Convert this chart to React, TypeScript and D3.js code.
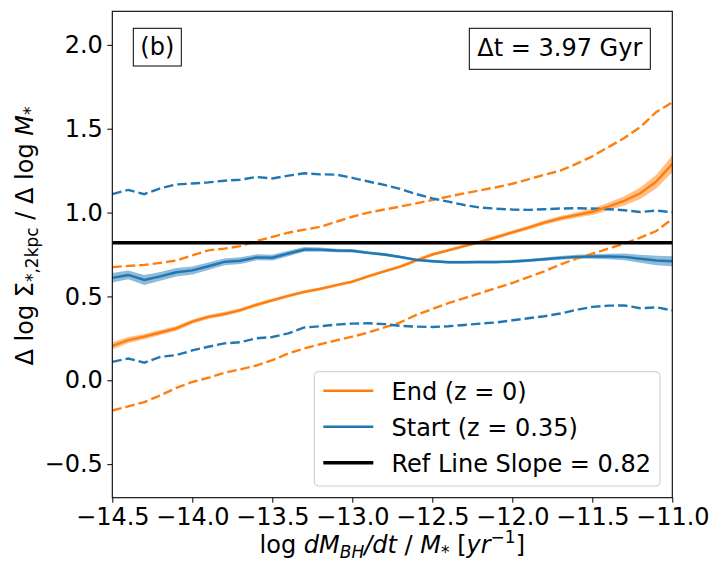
import * as d3 from "d3";
import { useEffect, useRef } from "react";

// bin centres, log dM_BH/dt / M_*
const xs = [
  -14.5, -14.4, -14.3, -14.2, -14.1, -14.0, -13.9, -13.8, -13.7, -13.6, -13.5, -13.4,
  -13.3, -13.2, -13.1, -13.0, -12.9, -12.8, -12.7, -12.6, -12.5, -12.4, -12.3, -12.2,
  -12.1, -12.0, -11.9, -11.8, -11.7, -11.6, -11.5, -11.4, -11.3, -11.2, -11.1, -11.0,
];

// End (z = 0)
const endMed = [
  0.205, 0.24, 0.26, 0.285, 0.31, 0.35, 0.378, 0.395, 0.418, 0.45, 0.477, 0.503,
  0.527, 0.545, 0.567, 0.588, 0.62, 0.65, 0.678, 0.715, 0.75, 0.775, 0.8, 0.825,
  0.853, 0.882, 0.91, 0.94, 0.965, 0.985, 1.005, 1.035, 1.07, 1.115, 1.185, 1.29,
];
const endErr = [
  0.022, 0.018, 0.016, 0.015, 0.014, 0.013, 0.012, 0.012, 0.011, 0.011, 0.01, 0.01,
  0.01, 0.009, 0.009, 0.009, 0.009, 0.009, 0.009, 0.009, 0.009, 0.009, 0.009, 0.01,
  0.01, 0.011, 0.012, 0.013, 0.014, 0.016, 0.019, 0.023, 0.028, 0.034, 0.041, 0.05,
];
const endHi = [
  0.675, 0.682, 0.688, 0.7, 0.714, 0.745, 0.775, 0.785, 0.8, 0.83, 0.855, 0.88,
  0.898, 0.915, 0.945, 0.975, 1.0, 1.018, 1.036, 1.055, 1.075, 1.095, 1.115, 1.133,
  1.151, 1.172, 1.198, 1.225, 1.25, 1.29, 1.335, 1.39, 1.445, 1.51, 1.6, 1.657,
];
const endLo = [
  -0.18, -0.155, -0.13, -0.09, -0.045, -0.01, 0.015, 0.045, 0.065, 0.088, 0.12, 0.16,
  0.19, 0.215, 0.238, 0.26, 0.285, 0.315, 0.345, 0.39, 0.425, 0.46, 0.49, 0.52,
  0.55, 0.58, 0.615, 0.65, 0.69, 0.725, 0.755, 0.785, 0.815, 0.85, 0.89, 0.962,
];

// Start (z = 0.35)
const startMed = [
  0.611, 0.628, 0.598, 0.62, 0.644, 0.655, 0.68, 0.706, 0.713, 0.733, 0.731, 0.756,
  0.78, 0.779, 0.774, 0.772, 0.76, 0.75, 0.735, 0.718, 0.71, 0.704, 0.704, 0.705,
  0.705, 0.708, 0.714, 0.722, 0.73, 0.736, 0.738, 0.738, 0.736, 0.725, 0.714, 0.71,
];
const startErr = [
  0.028, 0.026, 0.03, 0.026, 0.025, 0.024, 0.022, 0.02, 0.02, 0.018, 0.017, 0.016,
  0.014, 0.012, 0.011, 0.01, 0.009, 0.009, 0.008, 0.008, 0.008, 0.008, 0.008, 0.008,
  0.008, 0.009, 0.009, 0.01, 0.011, 0.012, 0.014, 0.017, 0.02, 0.024, 0.028, 0.03,
];
const startHi = [
  1.11, 1.135, 1.11, 1.145, 1.168, 1.173, 1.18, 1.19, 1.196, 1.212, 1.203, 1.22,
  1.234, 1.228, 1.226, 1.207, 1.185, 1.165, 1.141, 1.11, 1.085, 1.065, 1.045, 1.03,
  1.023, 1.018, 1.016, 1.02, 1.024, 1.026, 1.024, 1.02, 1.014, 1.003, 1.012, 1.002,
];
const startLo = [
  0.11, 0.13, 0.105, 0.14, 0.15, 0.178, 0.2, 0.22, 0.227, 0.25, 0.258, 0.28,
  0.315, 0.322, 0.332, 0.338, 0.34, 0.335, 0.325, 0.32, 0.318, 0.322, 0.33, 0.338,
  0.345, 0.358, 0.37, 0.382, 0.398, 0.42, 0.438, 0.445, 0.446, 0.43, 0.435, 0.417,
];

const refSlope = 0.82;
const xTicks = [-14.5, -14.0, -13.5, -13.0, -12.5, -12.0, -11.5, -11.0];
const yTicks = [-0.5, 0.0, 0.5, 1.0, 1.5, 2.0];

const ORANGE = "#ff7f0e";
const BLUE = "#1f77b4";
const FONT = "DejaVu Sans, sans-serif";
const FS = 24;
const SUB = 17;

export default function App() {
  const ref = useRef<SVGSVGElement | null>(null);

  useEffect(() => {
    document.body.style.margin = "0";
    const svg = d3.select(ref.current);
    svg.selectAll("*").remove();

    const margin = { top: 11.3, right: 47.7, bottom: 78.3, left: 112.3 };
    const width = 720 - margin.left - margin.right;
    const height = 576 - margin.top - margin.bottom;

    const g = svg.append("g").attr("transform", `translate(${margin.left},${margin.top})`);

    const x = d3.scaleLinear().domain([-14.5, -11.0]).range([0, width]);
    const y = d3.scaleLinear().domain([-0.7, 2.2]).range([height, 0]);

    g.append("clipPath").attr("id", "plot").append("rect").attr("width", width).attr("height", height);
    const plot = g.append("g").attr("clip-path", "url(#plot)");

    const idx = d3.range(xs.length);
    const area = (med: number[], err: number[]) =>
      d3.area<number>().x((i) => x(xs[i])).y0((i) => y(med[i] - err[i])).y1((i) => y(med[i] + err[i]));
    const line = (vals: number[]) => d3.line<number>().x((i) => x(xs[i])).y((i) => y(vals[i]));

    // shaded error bands
    plot.append("path").datum(idx).attr("fill", ORANGE).attr("opacity", 0.5).attr("d", area(endMed, endErr));
    plot.append("path").datum(idx).attr("fill", BLUE).attr("opacity", 0.5).attr("d", area(startMed, startErr));

    // percentile lines
    [
      [endHi, ORANGE],
      [endLo, ORANGE],
      [startHi, BLUE],
      [startLo, BLUE],
    ].forEach(([vals, col]) => {
      plot.append("path").datum(idx)
        .attr("fill", "none")
        .attr("stroke", col as string)
        .attr("stroke-width", 2.4)
        .attr("stroke-dasharray", "9.5,4")
        .attr("d", line(vals as number[]));
    });

    // medians
    plot.append("path").datum(idx).attr("fill", "none").attr("stroke", ORANGE).attr("stroke-width", 2.4).attr("d", line(endMed));
    plot.append("path").datum(idx).attr("fill", "none").attr("stroke", BLUE).attr("stroke-width", 2.4).attr("d", line(startMed));

    // reference slope
    plot.append("line")
      .attr("x1", 0).attr("x2", width)
      .attr("y1", y(refSlope)).attr("y2", y(refSlope))
      .attr("stroke", "black").attr("stroke-width", 3.5);

    // axes
    const fmt = d3.format(".1f");
    const xAxis = g.append("g").attr("transform", `translate(0,${height})`)
      .call(d3.axisBottom(x).tickValues(xTicks).tickFormat((d) => fmt(d as number)).tickSize(5).tickSizeOuter(0).tickPadding(5));
    const yAxis = g.append("g")
      .call(d3.axisLeft(y).tickValues(yTicks).tickFormat((d) => fmt(d as number)).tickSize(5).tickSizeOuter(0).tickPadding(4.5));
    [xAxis, yAxis].forEach((a) => {
      a.select(".domain").remove();
      a.selectAll("text").attr("font-family", FONT).attr("font-size", FS).attr("fill", "black");
      a.selectAll("line").attr("stroke", "black").attr("stroke-width", 1);
    });

    g.append("rect").attr("width", width).attr("height", height)
      .attr("fill", "none").attr("stroke", "black").attr("stroke-width", 1.1);

    // annotation boxes
    g.append("rect").attr("x", 133.3 - margin.left).attr("y", 28.3 - margin.top)
      .attr("width", 48).attr("height", 37.7).attr("fill", "white").attr("stroke", "black").attr("stroke-width", 1);
    g.append("text").attr("x", 157.3 - margin.left).attr("y", 55 - margin.top)
      .attr("text-anchor", "middle").attr("font-family", FONT).attr("font-size", FS).text("(b)");

    g.append("rect").attr("x", 469.3 - margin.left).attr("y", 28.3 - margin.top)
      .attr("width", 181).attr("height", 41).attr("fill", "white").attr("stroke", "black").attr("stroke-width", 1);
    g.append("text").attr("x", 559.8 - margin.left).attr("y", 56.5 - margin.top)
      .attr("text-anchor", "middle").attr("font-family", FONT).attr("font-size", FS).text("Δt = 3.97 Gyr");

    // legend
    const lg = svg.append("g");
    lg.append("rect").attr("x", 314.3).attr("y", 371.7).attr("width", 345.7).attr("height", 114.3)
      .attr("rx", 4).attr("fill", "white").attr("fill-opacity", 0.8).attr("stroke", "#cccccc").attr("stroke-width", 1);
    const items = [
      { label: "End (z = 0)", color: ORANGE, w: 2.4 },
      { label: "Start (z = 0.35)", color: BLUE, w: 2.4 },
      { label: `Ref Line Slope = ${refSlope}`, color: "black", w: 3.5 },
    ];
    items.forEach((it, i) => {
      const ry = 390.7 + i * 36;
      lg.append("line").attr("x1", 323.3).attr("x2", 373.3).attr("y1", ry).attr("y2", ry)
        .attr("stroke", it.color).attr("stroke-width", it.w);
      lg.append("text").attr("x", 391.5).attr("y", ry + 9)
        .attr("font-family", FONT).attr("font-size", FS).text(it.label);
    });

    // x label
    const xl = svg.append("text").attr("x", margin.left + width / 2).attr("y", 553)
      .attr("text-anchor", "middle").attr("font-family", FONT).attr("font-size", FS);
    xl.append("tspan").text("log ");
    xl.append("tspan").attr("font-style", "italic").text("dM");
    xl.append("tspan").attr("font-style", "italic").attr("font-size", SUB).attr("dy", 5).text("BH");
    xl.append("tspan").attr("font-style", "italic").attr("dy", -5).text("/dt");
    xl.append("tspan").text(" / ");
    xl.append("tspan").attr("font-style", "italic").text("M");
    xl.append("tspan").attr("font-size", SUB).attr("dy", 5).text("*");
    xl.append("tspan").attr("dy", -5).text(" [");
    xl.append("tspan").attr("font-style", "italic").text("yr");
    xl.append("tspan").attr("font-size", SUB).attr("dy", -10).text("−1");
    xl.append("tspan").attr("dy", 10).text("]");

    // y label
    const yl = svg.append("text").attr("transform", "translate(33,236) rotate(-90)")
      .attr("text-anchor", "middle").attr("font-family", FONT).attr("font-size", FS);
    yl.append("tspan").text("Δ log Σ");
    yl.append("tspan").attr("font-size", SUB).attr("dy", 5).text("*,2kpc");
    yl.append("tspan").attr("dy", -5).text(" / Δ log ");
    yl.append("tspan").attr("font-style", "italic").text("M");
    yl.append("tspan").attr("font-size", SUB).attr("dy", 3).text("*");
  }, []);

  return <svg ref={ref} width={720} height={576} style={{ display: "block" }}></svg>;
}
